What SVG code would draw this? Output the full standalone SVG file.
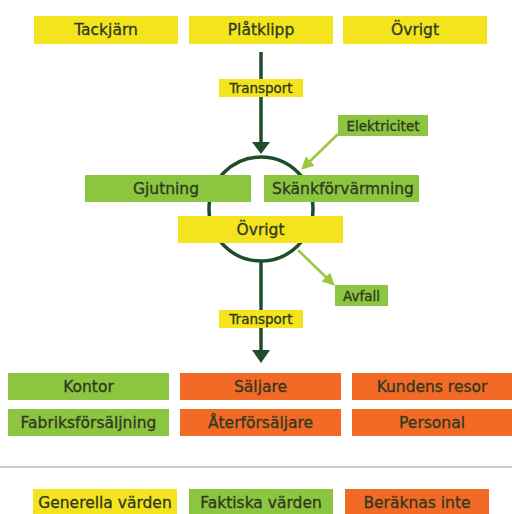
<svg xmlns="http://www.w3.org/2000/svg" width="512" height="514" viewBox="0 0 512 514">
<style>
.y{fill:#f3e41d}
.g{fill:#8cc540}
.o{fill:#f26a25}
text{font-family:"DejaVu Sans","Noto Sans",sans-serif;font-size:15.5px;fill:#2f3820;stroke:#2f3820;stroke-width:0.3;text-anchor:middle;dominant-baseline:central}
.s{font-size:13.5px}
.dk{stroke:#1f4d2c;stroke-width:3.5;fill:none}
.lt{stroke:#9bc63e;stroke-width:2.5;fill:none}
</style>
<defs>
<marker id="al" markerWidth="5" markerHeight="5" refX="4" refY="2.5" orient="auto" markerUnits="strokeWidth" viewBox="0 0 5 5"><path d="M0,0 L5,2.5 L0,5 z" fill="#9bc63e"/></marker>
</defs>
<rect width="512" height="514" fill="#ffffff"/>
<g id="connectors">
<line class="dk" x1="261" y1="52" x2="261" y2="142"/>
<path d="M252,142 L270,142 L261,154 z" fill="#1f4d2c"/>
<circle class="dk" cx="261" cy="209" r="52"/>
<line class="dk" x1="261" y1="261" x2="261" y2="351"/>
<path d="M252,350 L270,350 L261,363 z" fill="#1f4d2c"/>
<line class="lt" x1="338" y1="134" x2="303" y2="168" marker-end="url(#al)"/>
<line class="lt" x1="298" y1="250" x2="333" y2="284" marker-end="url(#al)"/>
</g>
<g id="n-tackjarn"><rect class="y" x="34" y="16" width="144" height="28"/><text x="106" y="30">Tackjärn</text></g>
<g id="n-platklipp"><rect class="y" x="189" y="16" width="144" height="28"/><text x="261" y="30">Plåtklipp</text></g>
<g id="n-ovrigt1"><rect class="y" x="343" y="16" width="144" height="28"/><text x="415" y="30">Övrigt</text></g>
<g id="n-transport1"><rect class="y" x="219" y="79" width="84" height="18"/><text class="s" x="261" y="88">Transport</text></g>
<g id="n-elektricitet"><rect class="g" x="338" y="115" width="90" height="21"/><text class="s" x="383" y="125.5">Elektricitet</text></g>
<g id="n-gjutning"><rect class="g" x="85" y="175" width="166" height="27"/><text x="166" y="188.5">Gjutning</text></g>
<g id="n-skank"><rect class="g" x="264" y="175" width="155" height="27"/><text x="343" y="188.5">Skänkförvärmning</text></g>
<g id="n-ovrigt2"><rect class="y" x="178" y="216" width="165" height="27"/><text x="260.5" y="229.5">Övrigt</text></g>
<g id="n-avfall"><rect class="g" x="335" y="285" width="53" height="21"/><text class="s" x="361.5" y="295.5">Avfall</text></g>
<g id="n-transport2"><rect class="y" x="219" y="310" width="84" height="18"/><text class="s" x="261" y="319">Transport</text></g>
<g id="n-kontor"><rect class="g" x="8" y="373" width="161" height="27"/><text x="88.5" y="386.5">Kontor</text></g>
<g id="n-saljare"><rect class="o" x="180" y="373" width="161" height="27"/><text x="260.5" y="386.5">Säljare</text></g>
<g id="n-kundens"><rect class="o" x="352" y="373" width="160" height="27"/><text x="432" y="386.5">Kundens resor</text></g>
<g id="n-fabrik"><rect class="g" x="8" y="409" width="161" height="27"/><text x="88.5" y="422.5">Fabriksförsäljning</text></g>
<g id="n-ater"><rect class="o" x="180" y="409" width="161" height="27"/><text x="260.5" y="422.5">Återförsäljare</text></g>
<g id="n-personal"><rect class="o" x="352" y="409" width="160" height="27"/><text x="432" y="422.5">Personal</text></g>
<line x1="0" y1="467" x2="512" y2="467" stroke="#b8b8b8" stroke-width="1.5"/>
<g id="legend-gen"><rect class="y" x="33" y="489" width="144" height="27"/><text x="105" y="502.5">Generella värden</text></g>
<g id="legend-fak"><rect class="g" x="189" y="489" width="144" height="27"/><text x="261" y="502.5">Faktiska värden</text></g>
<g id="legend-ber"><rect class="o" x="345" y="489" width="144" height="27"/><text x="417" y="502.5">Beräknas inte</text></g>
</svg>
